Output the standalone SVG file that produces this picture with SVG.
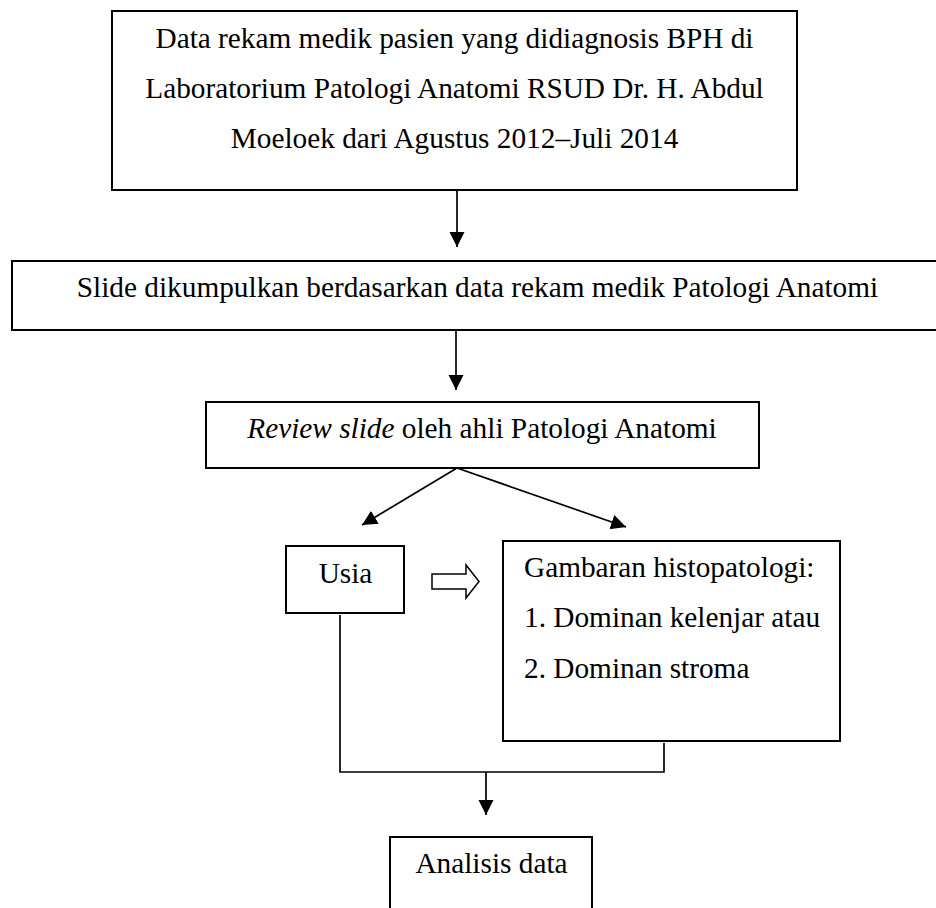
<svg xmlns="http://www.w3.org/2000/svg" width="936" height="908" viewBox="0 0 936 908">
<style>
.box{fill:#fff;stroke:#000;stroke-width:2}
.t{font-family:"Liberation Serif","Times New Roman",serif;font-size:29.3px;fill:#000}
.c{text-anchor:middle}
.con{fill:none;stroke:#000;stroke-width:1.7}
</style>
<defs>
<marker id="ah" markerUnits="userSpaceOnUse" markerWidth="16" markerHeight="16" refX="15" refY="8" orient="auto" viewBox="0 0 16 16">
<path d="M0,0.5 L15,8 L0,15.5 z" fill="#000"/>
</marker>
</defs>
<rect width="936" height="908" fill="#fff"/>
<g id="connectors">
<line class="con" x1="457" y1="190" x2="457" y2="247" marker-end="url(#ah)"/>
<line class="con" x1="456" y1="330" x2="456" y2="390" marker-end="url(#ah)"/>
<line class="con" x1="457" y1="468" x2="362" y2="525" marker-end="url(#ah)"/>
<line class="con" x1="457" y1="468" x2="626" y2="527" marker-end="url(#ah)"/>
<polyline class="con" points="340,615 340,772 664,772 664,743"/>
<line class="con" x1="486" y1="772" x2="486" y2="815" marker-end="url(#ah)"/>
<polygon points="432,574 466,574 466,565 479,581.5 466,598 466,589 432,589" fill="#fff" stroke="#000" stroke-width="1.5"/>
</g>
<g id="n1">
<rect class="box" x="112" y="11" width="685" height="179"/>
<text class="t c" x="454.5" y="48">Data rekam medik pasien yang didiagnosis BPH di</text>
<text class="t c" x="454.5" y="98">Laboratorium Patologi Anatomi RSUD Dr. H. Abdul</text>
<text class="t c" x="454.5" y="148">Moeloek dari Agustus 2012–Juli 2014</text>
</g>
<g id="n2">
<rect class="box" x="12" y="261" width="940" height="69"/>
<text class="t c" x="477.5" y="297">Slide dikumpulkan berdasarkan data rekam medik Patologi Anatomi</text>
</g>
<g id="n3">
<rect class="box" x="206" y="402" width="553" height="66"/>
<text class="t c" x="482" y="438"><tspan font-style="italic">Review slide</tspan> oleh ahli Patologi Anatomi</text>
</g>
<g id="n4">
<rect class="box" x="286" y="546" width="118" height="67"/>
<text class="t c" x="345.5" y="583">Usia</text>
</g>
<g id="n5">
<rect class="box" x="503" y="541" width="337" height="200"/>
<text class="t" x="524" y="577">Gambaran histopatologi:</text>
<text class="t" x="524" y="627">1. Dominan kelenjar atau</text>
<text class="t" x="524" y="678">2. Dominan stroma</text>
</g>
<g id="n6">
<rect class="box" x="390" y="837" width="202" height="90"/>
<text class="t c" x="491.5" y="873">Analisis data</text>
</g>
</svg>
